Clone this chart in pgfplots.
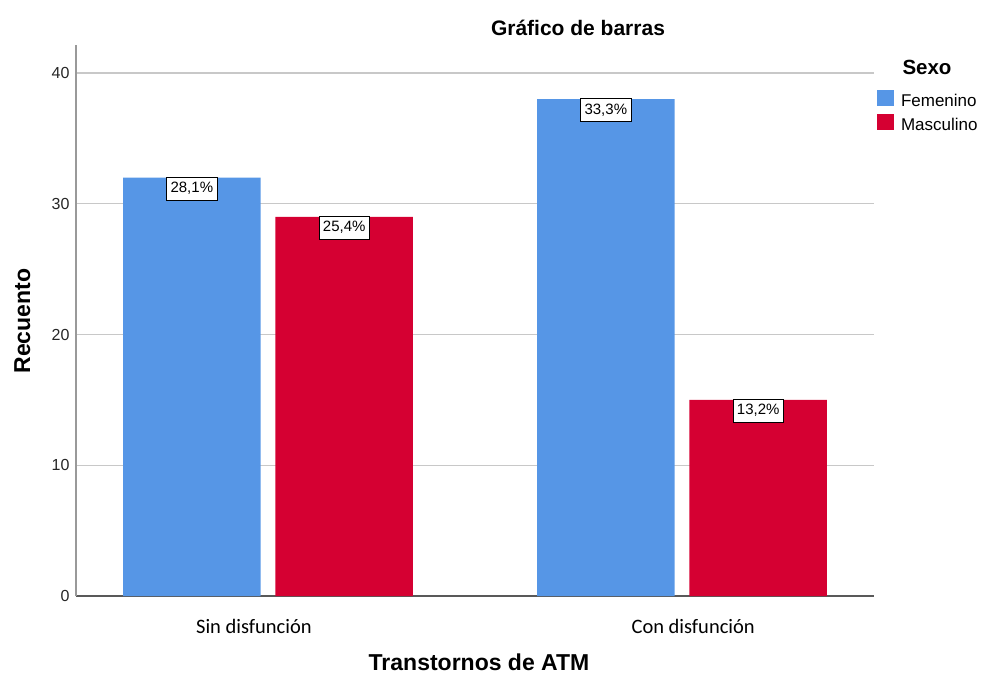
\documentclass[border=0pt]{standalone}
\usepackage{pgfplots}
\pgfplotsset{compat=1.18}
\usepackage{fontspec}
\setmainfont{Liberation Sans}
\newfontfamily\carlito{Carlito}
\definecolor{femblue}{RGB}{86,150,230}
\definecolor{mascred}{RGB}{213,0,50}
\definecolor{gridgray}{RGB}{200,200,200}
\begin{document}
\begin{tikzpicture}
\path[use as bounding box] (0pt,0pt) rectangle (982pt,673pt);
\begin{axis}[
  at={(76pt,77pt)}, anchor=south west,
  width=798pt, height=551pt, scale only axis,
  xmin=-0.4638, xmax=1.4638,
  ymin=0, ymax=42.14,
  ybar, bar width=0.332,
  axis x line=bottom, axis y line=left,
  axis line style={-},
  x axis line style={black!65, line width=1.3pt},
  y axis line style={black!40, line width=1.3pt},
  major tick length=0pt,
  ytick={0,10,20,30,40},
  xtick={-0.034,1.027},
  xticklabels={Sin disfunción, Con disfunción},
  xticklabel style={font=\carlito\fontsize{20.5}{24}\selectfont, anchor=base, yshift=-37pt},
  yticklabel style={font=\fontsize{16}{19}\selectfont, xshift=-3pt, text=black!85},
  /pgf/number format/assume math mode=true,
  ymajorgrids, grid style={gridgray, line width=1.3pt},
  point meta=explicit symbolic,
  nodes near coords,
  nodes near coords style={anchor=north, yshift=1pt, draw=black, line width=0.8pt, fill=white,
     inner xsep=4pt, inner ysep=4.5pt, text height=11pt, text depth=3pt,
     font=\fontsize{15}{18}\selectfont},
  legend style={at={(rel axis cs:1.0038,0.9183)}, anchor=north west, draw=none, fill=none,
     inner sep=0pt, outer sep=0pt, row sep=6.5pt, nodes={inner sep=0pt, anchor=base west},
     font=\fontsize{17}{20}\selectfont},
  legend cell align=left,
  /tikz/every odd column/.append style={column sep=7pt},
]
\addplot[fill=femblue, draw=none, bar shift=-0.184,
  legend image code/.code={\path[fill=femblue] (0pt,0.5pt) rectangle (17pt,16pt);}]
  coordinates {(0,32) [28,1\%] (1,38) [33,3\%]};
\addplot[fill=mascred, draw=none, bar shift=0.184,
  legend image code/.code={\path[fill=mascred] (0pt,0.5pt) rectangle (17pt,16pt);}]
  coordinates {(0,29) [25,4\%] (1,15) [13,2\%]};
\legend{Femenino, Masculino}
\end{axis}
\node[anchor=base, font=\bfseries\fontsize{21}{25}\selectfont] at (578pt,637pt) {Gráfico de barras};
\node[anchor=base, font=\bfseries\fontsize{20.5}{24}\selectfont] at (927pt,598pt) {Sexo};
\node[anchor=base, font=\bfseries\fontsize{23}{27}\selectfont] at (479pt,3pt) {Transtornos de ATM};
\node[anchor=base, rotate=90, font=\bfseries\fontsize{23}{27}\selectfont] at (30pt,352pt) {Recuento};
\end{tikzpicture}
\end{document}
